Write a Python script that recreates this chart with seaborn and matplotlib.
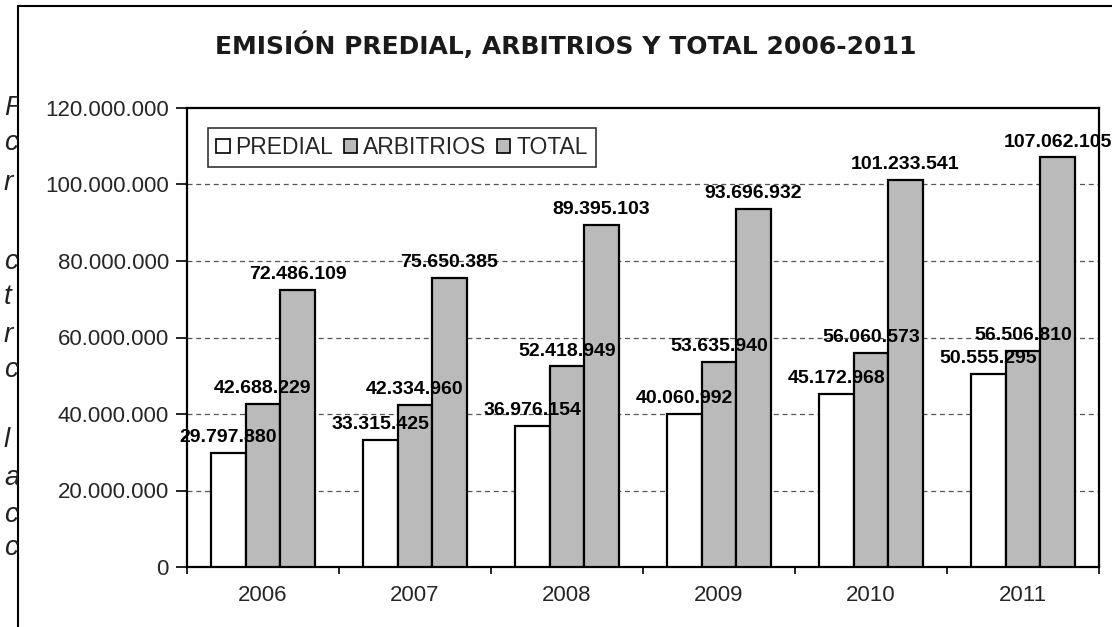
import matplotlib
matplotlib.use("Agg")
import matplotlib.pyplot as plt
import matplotlib.patches as mpatches
from matplotlib.lines import Line2D
from matplotlib.ticker import FuncFormatter, FixedLocator, MultipleLocator
import pandas as pd
import seaborn as sns

years = ["2006", "2007", "2008", "2009", "2010", "2011"]
predial = [29797880, 33315425, 36976154, 40060992, 45172968, 50555295]
arbitrios = [42688229, 42334960, 52418949, 53635940, 56060573, 56506810]
total = [72486109, 75650385, 89395103, 93696932, 101233541, 107062105]
series = ["PREDIAL", "ARBITRIOS", "TOTAL"]
title = "EMISIÓN PREDIAL, ARBITRIOS Y TOTAL 2006-2011"

# fragments of the surrounding page text cut by the chart frame
margin_letters = ["P", "c", "r", "c", "t", "r", "c", "l", "a", "c", "c"]
margin_rows = [108, 143, 183, 262, 297, 335, 370, 440, 478, 515, 548]

df = pd.DataFrame({
    "year": years * 3,
    "serie": [s for s in series for _ in years],
    "value": predial + arbitrios + total,
})

sns.set_theme(style="white")
plt.rcParams["font.family"] = ["Liberation Sans", "DejaVu Sans"]

W, H = 1112, 627
fig = plt.figure(figsize=(W / 100, H / 100), dpi=100)
ax = fig.add_axes([187 / W, 1 - 567 / H, (1099 - 187) / W, (567 - 108) / H])

palette = {"PREDIAL": "#ffffff", "ARBITRIOS": "#bababa", "TOTAL": "#bababa"}
sns.barplot(data=df, x="year", y="value", hue="serie", hue_order=series,
            palette=palette, edgecolor="black", linewidth=1.6,
            width=0.68, gap=0, ax=ax, legend=False, zorder=3)

def dotted(v):
    return f"{int(round(v)):,}".replace(",", ".")

for cont, vals in zip(ax.containers, [predial, arbitrios, total]):
    ax.bar_label(cont, labels=[dotted(v) for v in vals], padding=5,
                 fontsize=14, fontweight="bold", color="black", zorder=5)

ax.set_ylim(0, 120_000_000)
ax.set_xlim(-0.5, 5.5)
ax.yaxis.set_major_locator(MultipleLocator(20_000_000))
ax.yaxis.set_major_formatter(FuncFormatter(lambda v, p: dotted(v)))
ax.grid(False)
for g in range(20_000_000, 120_000_000, 20_000_000):
    ax.axhline(g, color="#555555", lw=0.9, ls=(0, (4, 3)), zorder=1)

ax.set_xlabel("")
ax.set_ylabel("")
ax.tick_params(axis="y", which="major", direction="out", length=8, width=1.2,
               labelsize=16, pad=5, left=True, color="black")
ax.tick_params(axis="x", which="major", length=0, labelsize=16, pad=13)
ax.xaxis.set_minor_locator(FixedLocator([i - 0.5 for i in range(7)]))
ax.tick_params(axis="x", which="minor", direction="out", length=5, width=1.2,
               bottom=True, color="black")
for sp in ax.spines.values():
    sp.set_visible(True)
    sp.set_color("black")
    sp.set_linewidth(1.6)

handles = [mpatches.Patch(facecolor=palette[s], edgecolor="black", linewidth=1.2, label=s)
           for s in series]
leg = ax.legend(handles=handles, loc="upper left", ncol=3, frameon=True,
                fontsize=16.5, handlelength=0.6, handleheight=0.6, handletextpad=0.25,
                columnspacing=0.45, borderpad=0.35, borderaxespad=0, fancybox=False,
                bbox_to_anchor=(0.023, 0.956))
leg.get_frame().set_edgecolor("black")
leg.get_frame().set_linewidth(1.2)

fig.text(566 / W, 1 - 45 / H, title, ha="center", va="center",
         fontsize=18, fontweight="bold", family="DejaVu Sans", color="#1a1a1a")

# chart frame (left and top edges)
fig.add_artist(Line2D([18 / W, 18 / W], [0, 1 - 6 / H], transform=fig.transFigure,
                      color="black", lw=1.5))
fig.add_artist(Line2D([18 / W, 1], [1 - 6 / H, 1 - 6 / H], transform=fig.transFigure,
                      color="black", lw=1.5))

clip = mpatches.Rectangle((0, 0), 18 / W, 1, transform=fig.transFigure)
for ch, yy in zip(margin_letters, margin_rows):
    t = fig.text(4 / W, 1 - yy / H, ch, ha="left", va="center", fontsize=20,
                 style="italic", color="#222222")
    t.set_clip_path(clip)
    t.set_clip_on(True)

fig.savefig("out.png", dpi=100)
